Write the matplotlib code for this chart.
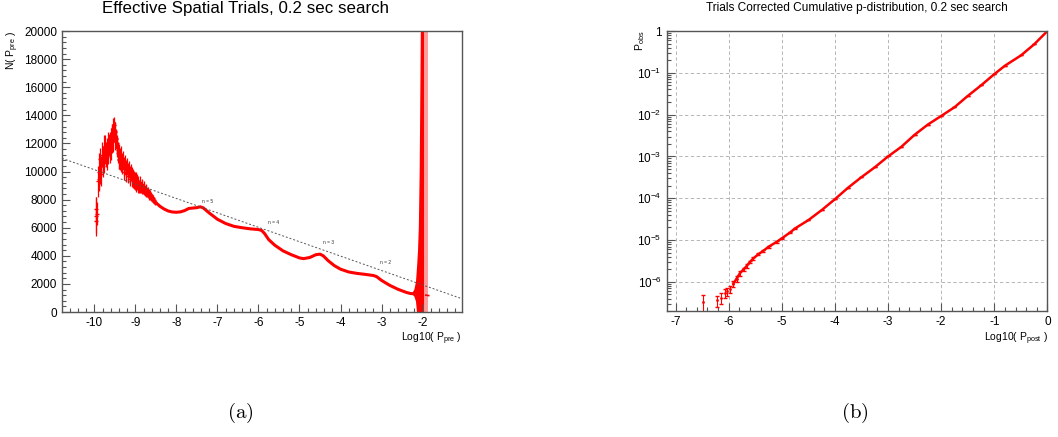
import numpy as np
import matplotlib
matplotlib.use('Agg')
import matplotlib.pyplot as plt
from matplotlib.ticker import MultipleLocator, LogLocator, FuncFormatter, NullFormatter

plt.rcParams['font.family'] = ['Liberation Sans', 'DejaVu Sans']
plt.rcParams['mathtext.fontset'] = 'custom'
plt.rcParams['mathtext.rm'] = 'Liberation Sans'
plt.rcParams['mathtext.it'] = 'Liberation Sans:italic'
plt.rcParams['mathtext.bf'] = 'Liberation Sans:bold'
plt.rcParams['axes.unicode_minus'] = False

# ---------------- data: panel (a) ----------------
noisy_x = [-9.97, -9.96, -9.95, -9.93, -9.92, -9.9, -9.89, -9.87, -9.86, -9.85, -9.83, -9.82,
           -9.8, -9.79, -9.77, -9.76, -9.75, -9.73, -9.72, -9.7, -9.69, -9.67, -9.66, -9.65,
           -9.63, -9.62, -9.6, -9.59, -9.58, -9.57, -9.56, -9.55, -9.54, -9.53, -9.52, -9.51,
           -9.5, -9.49, -9.48, -9.47, -9.46, -9.45, -9.44, -9.43, -9.42, -9.41, -9.4, -9.39,
           -9.38, -9.37, -9.35, -9.34, -9.33, -9.32, -9.3, -9.29, -9.28, -9.27, -9.25, -9.24,
           -9.23, -9.22, -9.2, -9.19, -9.18, -9.17, -9.15, -9.14, -9.13, -9.12, -9.1, -9.09,
           -9.08, -9.07, -9.05, -9.04, -9.03, -9.02, -9.0, -8.99, -8.98, -8.97, -8.95, -8.94,
           -8.93, -8.92, -8.9, -8.89, -8.88, -8.87, -8.85, -8.84, -8.83, -8.82, -8.8, -8.79,
           -8.78, -8.77, -8.75, -8.74, -8.73, -8.72, -8.7, -8.69, -8.68, -8.67, -8.65, -8.64,
           -8.63, -8.62, -8.6, -8.59, -8.58, -8.57, -8.55, -8.54, -8.53, -8.52]
noisy_y = [6800, 6500, 7300, 7000, 9300, 10000, 9500, 10900, 10000, 10400, 9800, 11200,
           10900, 10400, 11600, 10800, 11300, 11800, 11200, 11600, 11000, 11300, 12000, 11900,
           11400, 12100, 12300, 11700, 12700, 12100, 12600, 12300, 13100, 13300, 12900, 12800,
           12900, 12200, 12400, 12300, 11700, 11800, 12000, 11300, 11500, 10900, 11400, 10800,
           11100, 10700, 11200, 10500, 10800, 10400, 10800, 10200, 10500, 10000, 10600, 9900,
           10300, 9800, 10400, 9700, 10100, 9800, 10200, 9600, 9900, 9500, 10000, 9400,
           9800, 9300, 9700, 9200, 9600, 9100, 9500, 9000, 9500, 9100, 9400, 8900,
           9300, 8900, 9250, 8800, 9150, 8800, 9100, 8750, 9050, 8700, 9000, 8650,
           8900, 8550, 8800, 8500, 8750, 8450, 8600, 8350, 8500, 8250, 8400, 8200,
           8300, 8100, 8200, 8050, 8100, 7950, 8000, 7900, 7850, 7800]
noisy_err = [1400, 900, 900, 800, 1100, 1300, 900, 800, 900, 700, 800, 900,
             900, 800, 1000, 900, 800, 800, 900, 800, 900, 800, 800, 800,
             800, 700, 800, 900, 700, 800, 800, 900, 700, 600, 800, 700,
             600, 700, 600, 600, 700, 600, 600, 700, 600, 700, 550, 600,
             550, 600, 600, 550, 550, 600, 650, 550, 550, 600, 550, 550,
             500, 550, 550, 500, 500, 550, 550, 500, 500, 550, 500, 500,
             500, 500, 500, 450, 450, 450, 450, 450, 450, 400, 400, 400,
             400, 400, 400, 350, 350, 350, 350, 350, 350, 300, 300, 300,
             300, 300, 300, 300, 300, 280, 280, 250, 250, 250, 250, 230,
             230, 220, 220, 200, 200, 200, 200, 180, 180, 180]

smooth_x = [-8.52, -8.45, -8.4, -8.3, -8.2, -8.1, -8.0, -7.9, -7.8, -7.7, -7.6, -7.5, -7.42,
            -7.35, -7.2, -7.0, -6.8, -6.6, -6.4, -6.2, -6.0, -5.92, -5.85, -5.75, -5.6,
            -5.4, -5.2, -5.0, -4.9, -4.75, -4.6, -4.5, -4.42, -4.3, -4.15, -4.0, -3.8,
            -3.6, -3.4, -3.2, -3.12, -3.0, -2.8, -2.6, -2.4, -2.3, -2.22]
smooth_y = [7800, 7650, 7520, 7330, 7190, 7120, 7100, 7130, 7220, 7370, 7400, 7430, 7490,
            7420, 7050, 6600, 6300, 6100, 6000, 5920, 5870, 5800, 5580, 5150, 4750,
            4350, 4080, 3850, 3800, 3880, 4080, 4120, 4000, 3650, 3300, 3050, 2850,
            2750, 2680, 2600, 2520, 2250, 1900, 1620, 1400, 1320, 1300]

spike_x = np.array([-2.25, -2.2, -2.16, -2.13, -2.11, -2.09, -2.07, -2.05, -2.03, -2.01, -1.99, -1.96])
spike_y = np.array([1300, 1350, 1450, 1600, 1900, 2600, 4500, 8000, 12000, 16000, 20000, 21000])
spike_err = np.array([40, 250, 700, 1800, 2500, 3500, 5500, 9000, 13000, 17000, 21000, 22000])

band_x = [-1.955, -1.855]
band_y = [10000, 10000]
band_err = [11000, 11000]

tail_x = [-1.92, -1.85]
tail_y = [1200, 1170]

fit_intercept = -120.0
fit_slope = -1025.0

n_labels = ['n = 5', 'n = 4', 'n = 3', 'n = 2']
n_x = [-7.25, -5.62, -4.3, -2.9]
n_y = [7900, 6350, 4950, 3500]

# ---------------- data: panel (b) ----------------
post_x = [-6.49, -6.22, -6.15, -6.07, -6.03, -5.98, -5.91, -5.85, -5.79, -5.72, -5.66, -5.6,
          -5.54, -5.44, -5.35, -5.25, -5.1, -5.0, -4.85, -4.75, -4.5, -4.25, -4.0, -3.75,
          -3.5, -3.25, -3.0, -2.75, -2.5, -2.25, -2.0, -1.75, -1.5, -1.25, -1.0, -0.8,
          -0.5, -0.25, 0.0]
post_y = [3.3e-7, 3.6e-7, 4.2e-7, 5.5e-7, 6.0e-7, 6.6e-7, 9.1e-7, 1.2e-6, 1.6e-6, 2.0e-6,
          2.4e-6, 3.0e-6, 3.6e-6, 4.6e-6, 5.5e-6, 6.9e-6, 9.0e-6, 1.1e-5, 1.5e-5, 1.9e-5,
          3.0e-5, 5.2e-5, 9.5e-5, 1.8e-4, 3.2e-4, 5.5e-4, 1.0e-3, 1.7e-3, 3.3e-3, 5.8e-3,
          9.3e-3, 1.5e-2, 2.8e-2, 5.0e-2, 9.3e-2, 1.48e-1, 2.6e-1, 4.8e-1, 1.0]
post_rel_err = [0.45, 0.3, 0.28, 0.25, 0.22, 0.2, 0.18, 0.15, 0.12, 0.1, 0.09, 0.08,
                0.07, 0.06, 0.05, 0.05, 0.04, 0.03, 0.02, 0.02, 0.01, 0.01, 0.01, 0.0,
                0.0, 0.0, 0.0, 0.0, 0.0, 0.0, 0.0, 0.0, 0.0, 0.0, 0.0, 0.0,
                0.0, 0.0, 0.0]

# ---------------- figure ----------------
fig = plt.figure(figsize=(10.58, 4.37), dpi=100)
axa = fig.add_axes([0.0586, 0.286, 0.378, 0.643])
axb = fig.add_axes([0.630, 0.288, 0.360, 0.641])

frame_col = '#555555'
for ax in (axa, axb):
    for s in ax.spines.values():
        s.set_color(frame_col)
        s.set_linewidth(1.0)
    ax.tick_params(which='both', direction='in', top=False, right=False,
                   colors='#555555', labelcolor='black', labelsize=8.5, width=0.8)
    ax.tick_params(which='major', length=6)
    ax.tick_params(which='minor', length=3)

# panel (a)
xlim_a = (-10.79, -1.04)
axa.set_xlim(*xlim_a)
axa.set_ylim(0, 20000)
axa.errorbar(noisy_x, noisy_y, yerr=noisy_err, fmt='none', ecolor='red', elinewidth=0.9)
axa.plot(noisy_x, noisy_y, ls='none', marker='_', ms=2.5, color='red')
axa.plot(smooth_x, smooth_y, color='red', lw=2.2, solid_capstyle='round')
axa.fill_between(spike_x, spike_y - spike_err, spike_y + spike_err, color='red', lw=0)
axa.fill_between(band_x, np.array(band_y) - np.array(band_err),
                 np.array(band_y) + np.array(band_err), color='#ff9c9c', lw=0)
axa.plot(tail_x, tail_y, color='red', lw=1.2)
fx = np.array(xlim_a)
axa.plot(fx, fit_intercept + fit_slope * fx, color='#555555', lw=0.7, ls=(0, (2.0, 2.0)))
for lab, x, y in zip(n_labels, n_x, n_y):
    axa.text(x, y, lab, fontsize=3.5, ha='center', va='center', color='#333333')
axa.xaxis.set_major_locator(MultipleLocator(1))
axa.xaxis.set_minor_locator(MultipleLocator(0.2))
axa.yaxis.set_major_locator(MultipleLocator(2000))
axa.yaxis.set_minor_locator(MultipleLocator(400))
axa.xaxis.set_major_formatter(FuncFormatter(lambda v, p: '%d' % round(v)))

# panel (b)
axb.set_yscale('log')
axb.set_xlim(-7.17, 0)
axb.set_ylim(10 ** -6.7, 1.0)
axb.grid(True, which='major', color='#aaaaaa', ls=(0, (4, 3)), lw=0.6)
axb.set_axisbelow(True)
pe = np.array(post_rel_err) * np.array(post_y)
axb.errorbar(post_x, post_y, yerr=pe, fmt='none', ecolor='red', elinewidth=0.8, capsize=1.2)
axb.plot(post_x[:8], post_y[:8], ls='none', marker='.', ms=2, color='red')
axb.plot(post_x[6:], post_y[6:], color='red', lw=1.8)
axb.xaxis.set_major_locator(MultipleLocator(1))
axb.xaxis.set_minor_locator(MultipleLocator(0.2))
axb.xaxis.set_major_formatter(FuncFormatter(lambda v, p: '%d' % round(v)))
axb.yaxis.set_major_locator(LogLocator(base=10, numticks=20))
axb.yaxis.set_minor_locator(LogLocator(base=10, subs=np.arange(2, 10), numticks=20))
axb.yaxis.set_minor_formatter(NullFormatter())
def logfmt(v, p):
    e = int(round(np.log10(v)))
    return '1' if e == 0 else r'$10^{%d}$' % e
axb.yaxis.set_major_formatter(FuncFormatter(logfmt))

# titles and labels
fig.text(246 / 1058, 1 - 9 / 437, 'Effective Spatial Trials, 0.2 sec search',
         ha='center', va='center', fontsize=12.2)
fig.text(857 / 1058, 1 - 8 / 437, 'Trials Corrected Cumulative p-distribution, 0.2 sec search',
         ha='center', va='center', fontsize=8.6)
fig.text(13 / 1058, 1 - 31 / 437, r'N( P$_{\mathrm{pre}}$ )', rotation=90,
         ha='center', va='top', fontsize=7.5)
fig.text(640 / 1058, 1 - 31 / 437, r'P$_{\mathrm{obs}}$', rotation=90,
         ha='center', va='top', fontsize=7.5)
fig.text(462 / 1058, 1 - 339 / 437, r'Log10( P$_{\mathrm{pre}}$ )',
         ha='right', va='center', fontsize=7.5)
fig.text(1048 / 1058, 1 - 339 / 437, r'Log10( P$_{\mathrm{post}}$ )',
         ha='right', va='center', fontsize=7.5)
fig.text(240 / 1058, 1 - 413 / 437, r'$\mathrm{(a)}$', math_fontfamily='cm',
         ha='center', va='center', fontsize=15)
fig.text(855 / 1058, 1 - 413 / 437, r'$\mathrm{(b)}$', math_fontfamily='cm',
         ha='center', va='center', fontsize=15)

fig.savefig('out.png', dpi=100)
